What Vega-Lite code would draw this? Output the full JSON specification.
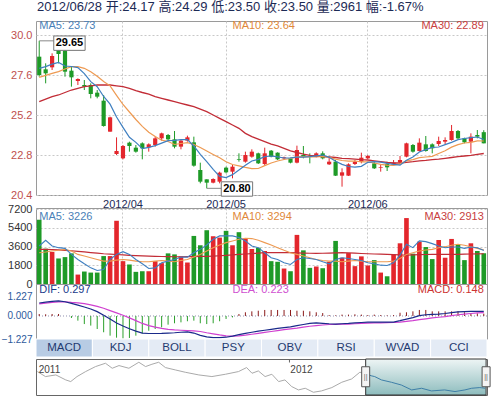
{
"$schema":"https://vega.github.io/schema/vega-lite/v6.json",
"padding":{"left":0,"top":0,"right":0,"bottom":0},
"background":"#ffffff",
"bounds":"flush",
"spacing":0,
"config":{"font":"Liberation Sans","view":{"stroke":"#9a9a9a"},"axis":{"labelFont":"Liberation Sans"}},
"datasets":{
"k":[
{"d":"2012-03-15","o":28.70,"h":29.65,"l":27.50,"c":27.60,"m5":28.00,"m10":27.46,"m30":26.00,"v":6190,"v5":3661,"v10":3013,"v30":3337,"dif":0.84,"dea":0.78,"macd":0.13},
{"d":"2012-03-16","o":27.94,"h":28.30,"l":27.10,"c":27.70,"m5":28.10,"m10":27.58,"m30":26.15,"v":3400,"v5":4212,"v10":3078,"v30":3330,"dif":0.90,"dea":0.83,"macd":0.11},
{"d":"2012-03-19","o":28.06,"h":28.90,"l":27.90,"c":28.74,"m5":28.25,"m10":27.70,"m30":26.30,"v":3080,"v5":3661,"v10":3175,"v30":3310,"dif":0.95,"dea":0.88,"macd":0.13},
{"d":"2012-03-20","o":29.14,"h":29.20,"l":28.30,"c":28.86,"m5":28.35,"m10":27.80,"m30":26.40,"v":2460,"v5":3499,"v10":3250,"v30":3280,"dif":0.97,"dea":0.91,"macd":0.13},
{"d":"2012-03-21","o":29.06,"h":29.10,"l":27.50,"c":27.80,"m5":28.14,"m10":27.96,"m30":26.55,"v":2590,"v5":3434,"v10":3337,"v30":3240,"dif":0.92,"dea":0.92,"macd":0.00},
{"d":"2012-03-22","o":27.86,"h":28.10,"l":26.90,"c":27.46,"m5":28.11,"m10":28.10,"m30":26.70,"v":2950,"v5":2851,"v10":3175,"v30":3200,"dif":0.82,"dea":0.88,"macd":-0.13},
{"d":"2012-03-23","o":27.24,"h":27.40,"l":27.00,"c":27.36,"m5":28.04,"m10":28.10,"m30":26.80,"v":907,"v5":2365,"v10":2851,"v30":3150,"dif":0.70,"dea":0.85,"macd":-0.30},
{"d":"2012-03-26","o":27.00,"h":27.30,"l":26.70,"c":26.90,"m5":27.68,"m10":28.00,"m30":26.90,"v":1200,"v5":1944,"v10":2689,"v30":3090,"dif":0.58,"dea":0.80,"macd":-0.52},
{"d":"2012-03-27","o":27.00,"h":27.10,"l":26.20,"c":26.46,"m5":27.20,"m10":27.80,"m30":26.95,"v":1100,"v5":1555,"v10":2527,"v30":3030,"dif":0.45,"dea":0.72,"macd":-0.62},
{"d":"2012-03-28","o":26.54,"h":26.70,"l":26.20,"c":26.30,"m5":26.90,"m10":27.52,"m30":27.00,"v":1100,"v5":1296,"v10":2365,"v30":2970,"dif":0.28,"dea":0.62,"macd":-0.84},
{"d":"2012-03-29","o":26.06,"h":26.40,"l":24.50,"c":24.54,"m5":26.31,"m10":27.21,"m30":27.00,"v":2690,"v5":1393,"v10":2203,"v30":2916,"dif":0.05,"dea":0.50,"macd":-1.05},
{"d":"2012-03-30","o":24.20,"h":25.10,"l":24.20,"c":25.06,"m5":25.85,"m10":26.95,"m30":27.00,"v":2690,"v5":2365,"v10":2203,"v30":2880,"dif":-0.20,"dea":0.35,"macd":-1.27},
{"d":"2012-04-05","o":22.86,"h":23.86,"l":22.80,"c":23.04,"m5":25.08,"m10":26.38,"m30":26.95,"v":6090,"v5":2851,"v10":2300,"v30":2840,"dif":-0.45,"dea":0.20,"macd":-1.40},
{"d":"2012-04-06","o":22.60,"h":23.40,"l":22.54,"c":23.34,"m5":24.46,"m10":25.83,"m30":26.90,"v":2200,"v5":3110,"v10":2365,"v30":2800,"dif":-0.65,"dea":0.05,"macd":-1.45},
{"d":"2012-04-09","o":23.54,"h":23.60,"l":23.00,"c":23.34,"m5":23.86,"m10":25.38,"m30":26.80,"v":1880,"v5":2851,"v10":2300,"v30":2760,"dif":-0.82,"dea":-0.12,"macd":-1.42},
{"d":"2012-04-10","o":23.24,"h":23.40,"l":22.94,"c":23.00,"m5":23.56,"m10":24.93,"m30":26.66,"v":1170,"v5":2365,"v10":2203,"v30":2730,"dif":-0.98,"dea":-0.30,"macd":-1.27},
{"d":"2012-04-11","o":23.50,"h":23.56,"l":22.54,"c":23.20,"m5":23.18,"m10":24.52,"m30":26.55,"v":1230,"v5":1944,"v10":2138,"v30":2705,"dif":-1.10,"dea":-0.48,"macd":-1.12},
{"d":"2012-04-12","o":23.26,"h":23.50,"l":23.00,"c":23.44,"m5":23.26,"m10":24.17,"m30":26.45,"v":1230,"v5":1490,"v10":2138,"v30":2689,"dif":-1.13,"dea":-0.62,"macd":-0.95},
{"d":"2012-04-13","o":23.40,"h":23.90,"l":23.30,"c":23.80,"m5":23.36,"m10":23.91,"m30":26.30,"v":2200,"v5":1555,"v10":2203,"v30":2670,"dif":-1.13,"dea":-0.72,"macd":-0.84},
{"d":"2012-04-16","o":23.80,"h":24.14,"l":23.66,"c":24.10,"m5":23.51,"m10":23.69,"m30":26.20,"v":2010,"v5":2041,"v10":2268,"v30":2650,"dif":-1.12,"dea":-0.80,"macd":-0.73},
{"d":"2012-04-17","o":24.00,"h":24.06,"l":23.66,"c":23.74,"m5":23.66,"m10":23.61,"m30":26.10,"v":2950,"v5":2203,"v10":2203,"v30":2635,"dif":-1.10,"dea":-0.86,"macd":-0.56},
{"d":"2012-04-18","o":23.74,"h":24.24,"l":23.20,"c":23.30,"m5":23.68,"m10":23.43,"m30":26.00,"v":2850,"v5":2365,"v10":2138,"v30":2624,"dif":-1.08,"dea":-0.90,"macd":-0.47},
{"d":"2012-04-19","o":23.30,"h":23.70,"l":23.14,"c":23.66,"m5":23.72,"m10":23.49,"m30":25.90,"v":2660,"v5":2592,"v10":2268,"v30":2624,"dif":-1.05,"dea":-0.92,"macd":-0.41},
{"d":"2012-04-20","o":23.66,"h":23.96,"l":23.60,"c":23.86,"m5":23.73,"m10":23.54,"m30":25.80,"v":2070,"v5":2592,"v10":2365,"v30":2630,"dif":-1.02,"dea":-0.94,"macd":-0.34},
{"d":"2012-04-23","o":23.56,"h":23.90,"l":22.10,"c":22.16,"m5":23.34,"m10":23.43,"m30":25.70,"v":4630,"v5":3013,"v10":2592,"v30":2640,"dif":-1.10,"dea":-0.96,"macd":-0.30},
{"d":"2012-04-24","o":21.90,"h":22.34,"l":21.10,"c":21.20,"m5":22.84,"m10":23.25,"m30":25.55,"v":3730,"v5":3337,"v10":2851,"v30":2655,"dif":-1.25,"dea":-1.00,"macd":-0.47},
{"d":"2012-04-25","o":21.34,"h":21.34,"l":20.80,"c":21.14,"m5":22.40,"m10":23.04,"m30":25.40,"v":5180,"v5":3758,"v10":3175,"v30":2670,"dif":-1.35,"dea":-1.08,"macd":-0.52},
{"d":"2012-04-26","o":21.14,"h":21.40,"l":21.10,"c":21.36,"m5":21.94,"m10":22.83,"m30":25.20,"v":4600,"v5":4309,"v10":3499,"v30":2689,"dif":-1.40,"dea":-1.15,"macd":-0.47},
{"d":"2012-04-27","o":21.20,"h":21.80,"l":21.10,"c":21.74,"m5":21.52,"m10":22.63,"m30":25.00,"v":4470,"v5":4633,"v10":3758,"v30":2720,"dif":-1.40,"dea":-1.22,"macd":-0.34},
{"d":"2012-05-02","o":22.04,"h":22.10,"l":21.70,"c":21.76,"m5":21.44,"m10":22.39,"m30":24.80,"v":5120,"v5":4633,"v10":3985,"v30":2760,"dif":-1.37,"dea":-1.28,"macd":-0.19},
{"d":"2012-05-03","o":21.80,"h":22.20,"l":21.40,"c":22.10,"m5":21.62,"m10":22.23,"m30":24.60,"v":3730,"v5":4633,"v10":4147,"v30":2810,"dif":-1.30,"dea":-1.30,"macd":-0.09},
{"d":"2012-05-04","o":22.56,"h":22.90,"l":22.40,"c":22.52,"m5":21.90,"m10":22.15,"m30":24.40,"v":4990,"v5":4471,"v10":4309,"v30":2851,"dif":-1.20,"dea":-1.28,"macd":0.13},
{"d":"2012-05-07","o":22.40,"h":23.00,"l":22.34,"c":22.80,"m5":22.18,"m10":22.06,"m30":24.10,"v":4340,"v5":4147,"v10":4406,"v30":2890,"dif":-1.12,"dea":-1.24,"macd":0.24},
{"d":"2012-05-08","o":22.70,"h":23.14,"l":22.64,"c":23.00,"m5":22.44,"m10":21.98,"m30":23.90,"v":3370,"v5":3661,"v10":4374,"v30":2930,"dif":-1.05,"dea":-1.18,"macd":0.30},
{"d":"2012-05-09","o":22.90,"h":22.94,"l":22.26,"c":22.30,"m5":22.54,"m10":21.99,"m30":23.75,"v":3500,"v5":3499,"v10":4212,"v30":2970,"dif":-0.98,"dea":-1.12,"macd":0.34},
{"d":"2012-05-10","o":22.26,"h":23.24,"l":22.20,"c":22.90,"m5":22.70,"m10":22.16,"m30":23.60,"v":3180,"v5":3013,"v10":3985,"v30":3013,"dif":-0.92,"dea":-1.06,"macd":0.39},
{"d":"2012-05-11","o":23.06,"h":23.10,"l":22.66,"c":22.70,"m5":22.74,"m10":22.32,"m30":23.45,"v":2200,"v5":2527,"v10":3758,"v30":3013,"dif":-0.86,"dea":-1.00,"macd":0.39},
{"d":"2012-05-14","o":22.94,"h":22.96,"l":22.50,"c":22.54,"m5":22.69,"m10":22.44,"m30":23.35,"v":2140,"v5":2365,"v10":3499,"v30":3013,"dif":-0.80,"dea":-0.94,"macd":0.39},
{"d":"2012-05-15","o":22.60,"h":22.70,"l":22.50,"c":22.66,"m5":22.62,"m10":22.53,"m30":23.20,"v":1490,"v5":2041,"v10":3240,"v30":3013,"dif":-0.75,"dea":-0.88,"macd":0.39},
{"d":"2012-05-16","o":22.60,"h":22.64,"l":22.30,"c":22.34,"m5":22.63,"m10":22.59,"m30":23.05,"v":1230,"v5":1879,"v10":3013,"v30":3013,"dif":-0.70,"dea":-0.83,"macd":0.39},
{"d":"2012-05-17","o":22.34,"h":23.36,"l":22.30,"c":23.10,"m5":22.67,"m10":22.69,"m30":22.95,"v":4730,"v5":2365,"v10":2851,"v30":3000,"dif":-0.62,"dea":-0.78,"macd":0.34},
{"d":"2012-05-18","o":22.80,"h":23.34,"l":22.60,"c":22.70,"m5":22.67,"m10":22.70,"m30":22.85,"v":3240,"v5":2527,"v10":2689,"v30":2980,"dif":-0.55,"dea":-0.72,"macd":0.34},
{"d":"2012-05-21","o":22.74,"h":22.90,"l":22.30,"c":22.70,"m5":22.70,"m10":22.69,"m30":22.78,"v":1555,"v5":2462,"v10":2527,"v30":2960,"dif":-0.48,"dea":-0.66,"macd":0.30},
{"d":"2012-05-22","o":22.70,"h":22.96,"l":22.66,"c":22.90,"m5":22.75,"m10":22.68,"m30":22.74,"v":1685,"v5":2365,"v10":2365,"v30":2950,"dif":-0.45,"dea":-0.62,"macd":0.24},
{"d":"2012-05-23","o":22.90,"h":23.02,"l":22.54,"c":22.60,"m5":22.80,"m10":22.71,"m30":22.70,"v":1520,"v5":2138,"v10":2268,"v30":2960,"dif":-0.47,"dea":-0.58,"macd":0.19},
{"d":"2012-05-24","o":22.24,"h":22.70,"l":22.20,"c":22.40,"m5":22.66,"m10":22.66,"m30":22.68,"v":2140,"v5":1944,"v10":2203,"v30":2980,"dif":-0.50,"dea":-0.55,"macd":0.06},
{"d":"2012-05-25","o":22.40,"h":22.50,"l":21.54,"c":21.56,"m5":22.43,"m10":22.55,"m30":22.65,"v":4150,"v5":2365,"v10":2203,"v30":3000,"dif":-0.52,"dea":-0.54,"macd":0.04},
{"d":"2012-05-28","o":21.56,"h":22.00,"l":20.90,"c":21.76,"m5":22.24,"m10":22.47,"m30":22.60,"v":2530,"v5":2527,"v10":2138,"v30":3013,"dif":-0.50,"dea":-0.53,"macd":0.09},
{"d":"2012-05-29","o":21.56,"h":22.30,"l":21.54,"c":22.24,"m5":22.11,"m10":22.43,"m30":22.58,"v":2980,"v5":2462,"v10":2203,"v30":3000,"dif":-0.48,"dea":-0.52,"macd":0.09},
{"d":"2012-05-30","o":22.26,"h":22.50,"l":22.20,"c":22.40,"m5":22.07,"m10":22.44,"m30":22.55,"v":1720,"v5":2365,"v10":2268,"v30":2970,"dif":-0.45,"dea":-0.50,"macd":0.11},
{"d":"2012-05-31","o":22.40,"h":22.94,"l":22.30,"c":22.64,"m5":22.12,"m10":22.39,"m30":22.52,"v":2660,"v5":2268,"v10":2203,"v30":2940,"dif":-0.42,"dea":-0.48,"macd":0.09},
{"d":"2012-06-01","o":22.60,"h":22.80,"l":22.56,"c":22.74,"m5":22.36,"m10":22.39,"m30":22.50,"v":1780,"v5":2041,"v10":2138,"v30":2916,"dif":-0.40,"dea":-0.46,"macd":0.06},
{"d":"2012-06-04","o":22.30,"h":22.40,"l":21.96,"c":22.00,"m5":22.40,"m10":22.32,"m30":22.45,"v":2300,"v5":1944,"v10":2138,"v30":2890,"dif":-0.40,"dea":-0.45,"macd":0.09},
{"d":"2012-06-05","o":22.02,"h":22.24,"l":21.80,"c":22.06,"m5":22.37,"m10":22.24,"m30":22.40,"v":1100,"v5":1814,"v10":2138,"v30":2870,"dif":-0.40,"dea":-0.44,"macd":0.06},
{"d":"2012-06-06","o":22.26,"h":22.40,"l":21.84,"c":22.06,"m5":22.30,"m10":22.19,"m30":22.35,"v":745,"v5":1782,"v10":2138,"v30":2851,"dif":-0.40,"dea":-0.43,"macd":0.04},
{"d":"2012-06-07","o":22.24,"h":22.50,"l":22.16,"c":22.34,"m5":22.24,"m10":22.18,"m30":22.32,"v":2850,"v5":2041,"v10":2203,"v30":2830,"dif":-0.39,"dea":-0.42,"macd":0.06},
{"d":"2012-06-08","o":22.36,"h":22.74,"l":22.20,"c":22.50,"m5":22.19,"m10":22.27,"m30":22.32,"v":3920,"v5":2786,"v10":2462,"v30":2800,"dif":-0.30,"dea":-0.40,"macd":0.21},
{"d":"2012-06-11","o":22.70,"h":23.54,"l":22.66,"c":23.50,"m5":22.49,"m10":22.45,"m30":22.36,"v":6350,"v5":3823,"v10":2851,"v30":2786,"dif":-0.20,"dea":-0.35,"macd":0.24},
{"d":"2012-06-12","o":23.40,"h":23.46,"l":22.94,"c":23.00,"m5":22.68,"m10":22.52,"m30":22.40,"v":2920,"v5":3499,"v10":3013,"v30":2800,"dif":-0.10,"dea":-0.30,"macd":0.30},
{"d":"2012-06-13","o":23.04,"h":23.80,"l":23.00,"c":23.54,"m5":22.98,"m10":22.64,"m30":22.45,"v":4080,"v5":4147,"v10":3175,"v30":2820,"dif":0.02,"dea":-0.24,"macd":0.39},
{"d":"2012-06-14","o":23.44,"h":23.94,"l":23.00,"c":23.04,"m5":23.12,"m10":22.68,"m30":22.48,"v":3560,"v5":4082,"v10":3272,"v30":2840,"dif":0.08,"dea":-0.18,"macd":0.39},
{"d":"2012-06-15","o":23.44,"h":23.50,"l":22.90,"c":23.20,"m5":23.26,"m10":22.72,"m30":22.52,"v":2400,"v5":3888,"v10":3337,"v30":2851,"dif":0.10,"dea":-0.12,"macd":0.30},
{"d":"2012-06-18","o":23.46,"h":23.90,"l":23.34,"c":23.64,"m5":23.28,"m10":22.89,"m30":22.55,"v":4240,"v5":3661,"v10":3499,"v30":2851,"dif":0.12,"dea":-0.08,"macd":0.30},
{"d":"2012-06-19","o":23.60,"h":23.86,"l":23.46,"c":23.70,"m5":23.42,"m10":23.05,"m30":22.60,"v":2530,"v5":3499,"v10":3596,"v30":2851,"dif":0.16,"dea":-0.04,"macd":0.30},
{"d":"2012-06-20","o":23.70,"h":24.60,"l":23.66,"c":24.24,"m5":23.56,"m10":23.27,"m30":22.65,"v":4340,"v5":3564,"v10":3726,"v30":2851,"dif":0.22,"dea":0.02,"macd":0.30},
{"d":"2012-06-21","o":24.24,"h":24.30,"l":23.74,"c":23.80,"m5":23.72,"m10":23.42,"m30":22.70,"v":3760,"v5":3564,"v10":3823,"v30":2851,"dif":0.26,"dea":0.08,"macd":0.30},
{"d":"2012-06-25","o":23.80,"h":23.84,"l":23.50,"c":23.56,"m5":23.79,"m10":23.52,"m30":22.74,"v":2300,"v5":3434,"v10":3726,"v30":2870,"dif":0.28,"dea":0.12,"macd":0.24},
{"d":"2012-06-26","o":23.60,"h":24.10,"l":22.90,"c":23.90,"m5":23.84,"m10":23.56,"m30":22.78,"v":3920,"v5":3564,"v10":3596,"v30":2890,"dif":0.30,"dea":0.16,"macd":0.19},
{"d":"2012-06-27","o":24.00,"h":24.30,"l":23.80,"c":23.90,"m5":23.88,"m10":23.65,"m30":22.84,"v":3180,"v5":3499,"v10":3434,"v30":2905,"dif":0.30,"dea":0.20,"macd":0.17},
{"d":"2012-06-28","o":24.17,"h":24.29,"l":23.50,"c":23.50,"m5":23.73,"m10":23.64,"m30":22.89,"v":2961,"v5":3226,"v10":3294,"v30":2913,"dif":0.297,"dea":0.223,"macd":0.148}
],
"navA":[
{"t":0.3,"v":28.67},{"t":2.1,"v":26.67},{"t":4.4,"v":27.33},{"t":6.6,"v":25.33},{"t":7.7,"v":24.67},{"t":9.1,"v":26.67},{"t":11,"v":28.67},{"t":13.2,"v":30.67},{"t":15.4,"v":32.0},{"t":16.9,"v":30.0},{"t":18.4,"v":31.07},{"t":20.6,"v":30.0},{"t":22.8,"v":32.4},{"t":24.3,"v":30.67},{"t":25.7,"v":31.6},{"t":27.2,"v":32.4},{"t":28.7,"v":30.27},{"t":30.9,"v":29.33},{"t":33.1,"v":28.4},{"t":36.1,"v":27.33},{"t":39,"v":26.67},{"t":42,"v":27.6},{"t":44.9,"v":28.67},{"t":46.7,"v":30.27},{"t":47.9,"v":28.0},{"t":49.3,"v":28.93},{"t":50.8,"v":26.67},{"t":52.3,"v":27.6},{"t":53.8,"v":24.67},{"t":55.2,"v":25.33},{"t":56.7,"v":22.67},{"t":58.2,"v":21.33},{"t":59.7,"v":22.0},{"t":61.5,"v":20.4},{"t":63.3,"v":20.93},{"t":65.6,"v":22.27},{"t":67.8,"v":24.4},{"t":70,"v":25.73},{"t":71.8,"v":28.4},{"t":73.1,"v":28.0}
],
"navB":[
{"t":73.1,"v":28.0},{"t":74.3,"v":27.0},{"t":75.1,"v":26.67},{"t":76.6,"v":25.33},{"t":78.8,"v":24.4},{"t":81,"v":23.3},{"t":83.3,"v":21.33},{"t":85.5,"v":22.0},{"t":87.7,"v":20.93},{"t":90.6,"v":21.33},{"t":92.9,"v":20.67},{"t":95.1,"v":21.33},{"t":96.6,"v":22.0},{"t":98.4,"v":22.27},{"t":99.6,"v":22.0}
],
"tabs":[
{"tab":"MACD","on":1},{"tab":"KDJ","on":0},{"tab":"BOLL","on":0},{"tab":"PSY","on":0},{"tab":"OBV","on":0},{"tab":"RSI","on":0},{"tab":"WVAD","on":0},{"tab":"CCI","on":0}
]
},
"vconcat":[
{
"width":451,"height":174,
"title":{"text":"2012/06/28 开:24.17 高:24.29 低:23.50 收:23.50 量:2961 幅:-1.67%","anchor":"start","frame":"group","offset":6,"dx":1,"fontSize":13,"fontWeight":"normal","color":"#1c2a55","font":"Liberation Sans, Noto Sans CJK SC"},
"data":{"name":"k"},
"layer":[
{"mark":{"type":"rule","strokeWidth":1},
 "encoding":{
  "x":{"field":"d","type":"ordinal","scale":{"paddingInner":0,"paddingOuter":0},
   "axis":{"values":["2012-04-06","2012-05-02","2012-06-01"],"labelExpr":"replace(slice(datum.value,0,7),'-','/')","bandPosition":0.5,"grid":true,"gridDash":[2,2],"gridColor":"#c8c8c8","ticks":false,"tickSize":0,"domain":false,"labelPadding":3,"labelFontSize":11,"labelColor":"#1c2a55","labelAngle":0,"labelOverlap":false,"title":null}},
  "y":{"field":"l","type":"quantitative","scale":{"domain":[20.4,30.84],"nice":false,"zero":false},
   "axis":{"values":[20.4,22.8,25.2,27.6,30.0],"tickCount":20,"format":".1f","grid":true,"gridDash":[2,2],"gridColor":"#c8c8c8","ticks":false,"tickSize":0,"domain":false,"labelPadding":4,"labelFontSize":11,"labelColor":"#c0504d","labelOverlap":false,"title":null}},
  "y2":{"field":"h"},
  "color":{"condition":{"test":"datum.c >= datum.o","value":"#e3262c"},"value":"#1e9a27"}}},
{"mark":{"type":"bar","width":{"band":0.65}},
 "encoding":{
  "x":{"field":"d","type":"ordinal"},
  "y":{"field":"o","type":"quantitative"},
  "y2":{"field":"c"},
  "color":{"condition":{"test":"datum.c >= datum.o","value":"#e3262c"},"value":"#1e9a27"}}},
{"mark":{"type":"line","color":"#c22c36","strokeWidth":1.3},
 "encoding":{"x":{"field":"d","type":"ordinal"},"y":{"field":"m30","type":"quantitative"}}},
{"mark":{"type":"line","color":"#ee9a52","strokeWidth":1.2},
 "encoding":{"x":{"field":"d","type":"ordinal"},"y":{"field":"m10","type":"quantitative"}}},
{"mark":{"type":"line","color":"#3f7fc0","strokeWidth":1.2},
 "encoding":{"x":{"field":"d","type":"ordinal"},"y":{"field":"m5","type":"quantitative"}}},
{"data":{"values":[{"a":"2012-03-15","b":"2012-03-20","p":29.65},{"a":"2012-04-25","b":"2012-05-02","p":20.80}]},
 "mark":{"type":"rule","color":"#888888","strokeWidth":1},
 "encoding":{"x":{"field":"a","type":"ordinal"},"x2":{"field":"b"},"y":{"field":"p","type":"quantitative"}}},
{"data":{"values":[{"d":"2012-03-22","p":29.51,"t":"29.65"},{"d":"2012-05-04","p":20.76,"t":"20.80"}]},
 "mark":{"type":"point","shape":"M-0.98,-0.45H0.98V0.45H-0.98Z","size":1024,"filled":true,"fill":"#ffffff","stroke":"#777777","strokeWidth":1,"opacity":1,"fillOpacity":1,"strokeOpacity":1,"xOffset":-2},
 "encoding":{"x":{"field":"d","type":"ordinal"},"y":{"field":"p","type":"quantitative"}}},
{"data":{"values":[{"d":"2012-03-22","p":29.51,"t":"29.65"},{"d":"2012-05-04","p":20.76,"t":"20.80"}]},
 "mark":{"type":"text","fontSize":11,"fontWeight":"bold","color":"#000000","dx":-2,"baseline":"middle"},
 "encoding":{"x":{"field":"d","type":"ordinal"},"y":{"field":"p","type":"quantitative"},"text":{"field":"t"}}},
{"data":{"values":[{"t":"MA5: 23.73"}]},"mark":{"type":"text","align":"left","baseline":"middle","fontSize":11,"color":"#4a7fb8"},
 "encoding":{"x":{"datum":"2012-03-15","type":"ordinal"},"y":{"datum":30.54,"type":"quantitative"},"text":{"field":"t"}}},
{"data":{"values":[{"t":"MA10: 23.64"}]},"mark":{"type":"text","align":"left","baseline":"middle","fontSize":11,"color":"#e0883a"},
 "encoding":{"x":{"datum":"2012-05-03","type":"ordinal"},"y":{"datum":30.54,"type":"quantitative"},"text":{"field":"t"}}},
{"data":{"values":[{"t":"MA30: 22.89"}]},"mark":{"type":"text","align":"right","baseline":"middle","fontSize":11,"color":"#c84040"},
 "encoding":{"x":{"datum":"2012-06-28","type":"ordinal"},"y":{"datum":30.54,"type":"quantitative"},"text":{"field":"t"}}}
]
},
{"width":451,"height":13,"view":{"stroke":null},"data":{"values":[{}]},"mark":{"type":"text"},"encoding":{"text":{"value":""}}},
{
"width":451,"height":76,
"data":{"name":"k"},
"layer":[
{"mark":{"type":"bar","width":{"band":0.72}},
 "encoding":{
  "x":{"field":"d","type":"ordinal","scale":{"paddingInner":0,"paddingOuter":0},
   "axis":{"values":["2012-04-06","2012-05-02","2012-06-01"],"bandPosition":0.5,"grid":true,"gridDash":[2,2],"gridColor":"#c8c8c8","labels":false,"ticks":false,"domain":false,"title":null}},
  "y":{"field":"v","type":"quantitative","scale":{"domain":[0,7320],"nice":false},
   "axis":{"values":[0,1800,3600,5400,7200],"tickCount":20,"format":"d","grid":true,"gridDash":[2,2],"gridColor":"#c8c8c8","ticks":false,"domain":false,"labelPadding":4,"labelFontSize":11,"labelColor":"#333333","labelOverlap":false,"title":null}},
  "color":{"condition":{"test":"datum.c >= datum.o","value":"#e3262c"},"value":"#1e9a27"}}},
{"mark":{"type":"line","color":"#c22c36","strokeWidth":1.2},
 "encoding":{"x":{"field":"d","type":"ordinal"},"y":{"field":"v30","type":"quantitative"}}},
{"mark":{"type":"line","color":"#ee9a52","strokeWidth":1.1},
 "encoding":{"x":{"field":"d","type":"ordinal"},"y":{"field":"v10","type":"quantitative"}}},
{"mark":{"type":"line","color":"#3f7fc0","strokeWidth":1.1},
 "encoding":{"x":{"field":"d","type":"ordinal"},"y":{"field":"v5","type":"quantitative"}}},
{"data":{"values":[{"t":"MA5: 3226"}]},"mark":{"type":"text","align":"left","baseline":"middle","fontSize":11,"color":"#4a7fb8"},
 "encoding":{"x":{"datum":"2012-03-15","type":"ordinal"},"y":{"datum":6480,"type":"quantitative"},"text":{"field":"t"}}},
{"data":{"values":[{"t":"MA10: 3294"}]},"mark":{"type":"text","align":"left","baseline":"middle","fontSize":11,"color":"#e0883a"},
 "encoding":{"x":{"datum":"2012-05-03","type":"ordinal"},"y":{"datum":6480,"type":"quantitative"},"text":{"field":"t"}}},
{"data":{"values":[{"t":"MA30: 2913"}]},"mark":{"type":"text","align":"right","baseline":"middle","fontSize":11,"color":"#c84040"},
 "encoding":{"x":{"datum":"2012-06-28","type":"ordinal"},"y":{"datum":6480,"type":"quantitative"},"text":{"field":"t"}}}
]
},
{
"width":451,"height":55,
"data":{"name":"k"},
"layer":[
{"data":{"values":[{}]},"mark":{"type":"rule","strokeDash":[1,2],"color":"#9090b0"},
 "encoding":{"y":{"datum":0,"type":"quantitative","scale":{"domain":[-1.485,2.066],"nice":false,"zero":false},
  "axis":{"values":[-1.227,0,1.227],"tickCount":20,"format":".3f","grid":false,"ticks":false,"domain":false,"labelPadding":4,"labelFontSize":10,"labelColor":"#2e5a9c","labelOverlap":false,"labelOffset":{"condition":{"test":"datum.value < 0","value":4},"value":0},"title":null}}}},
{"mark":{"type":"rule","strokeWidth":1},
 "encoding":{
  "x":{"field":"d","type":"ordinal","scale":{"paddingInner":0,"paddingOuter":0},"axis":null},
  "y":{"field":"macd","type":"quantitative"},
  "y2":{"datum":0},
  "color":{"condition":{"test":"datum.macd >= 0","value":"#8b1a1a"},"value":"#2ca02c"}}},
{"mark":{"type":"line","color":"#d040d0","strokeWidth":1.2},
 "encoding":{"x":{"field":"d","type":"ordinal","axis":null},"y":{"field":"dea","type":"quantitative"}}},
{"mark":{"type":"line","color":"#1a2a8a","strokeWidth":1.2},
 "encoding":{"x":{"field":"d","type":"ordinal","axis":null},"y":{"field":"dif","type":"quantitative"}}},
{"data":{"values":[{"t":"DIF: 0.297"}]},"mark":{"type":"text","align":"left","baseline":"middle","fontSize":11,"color":"#1a3a8a"},
 "encoding":{"x":{"datum":"2012-03-15","type":"ordinal","axis":null},"y":{"datum":1.68,"type":"quantitative"},"text":{"field":"t"}}},
{"data":{"values":[{"t":"DEA: 0.223"}]},"mark":{"type":"text","align":"left","baseline":"middle","fontSize":11,"color":"#d050d0"},
 "encoding":{"x":{"datum":"2012-05-03","type":"ordinal","axis":null},"y":{"datum":1.68,"type":"quantitative"},"text":{"field":"t"}}},
{"data":{"values":[{"t":"MACD: 0.148"}]},"mark":{"type":"text","align":"right","baseline":"middle","fontSize":11,"color":"#cc3333"},
 "encoding":{"x":{"datum":"2012-06-28","type":"ordinal","axis":null},"y":{"datum":1.68,"type":"quantitative"},"text":{"field":"t"}}}
]
},
{
"width":451,"height":18,
"view":{"stroke":null},
"data":{"name":"tabs"},
"layer":[
{"mark":{"type":"bar","width":{"band":1},"stroke":"#ffffff","strokeWidth":1},
 "encoding":{
  "x":{"field":"tab","type":"nominal","sort":null,"scale":{"paddingInner":0,"paddingOuter":0},"axis":null},
  "color":{"condition":{"test":"datum.on == 1","value":"#b8cce4"},"value":"#e4ebf5"}}},
{"mark":{"type":"text","fontSize":11.5,"color":"#1f3a70","baseline":"middle"},
 "encoding":{"x":{"field":"tab","type":"nominal","sort":null,"axis":null},"text":{"field":"tab"}}}
]
},
{"width":451,"height":2,"view":{"stroke":null},"data":{"values":[{}]},"mark":{"type":"text"},"encoding":{"text":{"value":""}}},
{
"width":451,"height":36,
"view":{"stroke":"#666666"},
"layer":[
{"data":{"values":[{"t1":73.1,"t2":99.8}]},
 "mark":{"type":"rect","fill":{"gradient":"linear","x1":0,"y1":0,"x2":0,"y2":1,"stops":[{"offset":0,"color":"#eef5f5"},{"offset":1,"color":"#8dbcbd"}]},"stroke":"#333333","strokeWidth":1},
 "encoding":{"x":{"field":"t1","type":"quantitative","scale":{"domain":[0,100],"nice":false,"zero":false},"axis":null},"x2":{"field":"t2"}}},
{"data":{"name":"navA"},"mark":{"type":"line","color":"#aaaaaa","strokeWidth":1},
 "encoding":{"x":{"field":"t","type":"quantitative","axis":null},"y":{"field":"v","type":"quantitative","scale":{"domain":[19.3,33.7],"nice":false,"zero":false},"axis":null}}},
{"data":{"name":"navB"},"mark":{"type":"line","color":"#3f7fa8","strokeWidth":1},
 "encoding":{"x":{"field":"t","type":"quantitative","axis":null},"y":{"field":"v","type":"quantitative","axis":null}}},
{"data":{"values":[{"t":56.2}]},"mark":{"type":"rule","color":"#666666"},
 "encoding":{"x":{"field":"t","type":"quantitative","axis":null},"y":{"datum":33.7,"type":"quantitative","axis":null},"y2":{"datum":32.3}}},
{"data":{"values":[{"t":0.6,"yr":"2011"},{"t":56.4,"yr":"2012"}]},"mark":{"type":"text","align":"left","baseline":"middle","fontSize":10,"color":"#444444"},
 "encoding":{"x":{"field":"t","type":"quantitative","axis":null},"y":{"datum":29.3,"type":"quantitative","axis":null},"text":{"field":"yr"}}},
{"data":{"values":[{"t":73.1},{"t":99.8}]},
 "mark":{"type":"point","shape":"M-0.4,-1H0.4V1H-0.4Z","size":400,"filled":true,"fill":"#f4f4f4","stroke":"#555555","strokeWidth":1,"opacity":1,"fillOpacity":1},
 "encoding":{"x":{"field":"t","type":"quantitative","axis":null},"y":{"datum":26.6,"type":"quantitative","axis":null}}},
{"data":{"values":[{"t":73.1},{"t":99.8}]},
 "mark":{"type":"text","text":"||","fontSize":7,"color":"#555555","baseline":"middle"},
 "encoding":{"x":{"field":"t","type":"quantitative","axis":null},"y":{"datum":26.6,"type":"quantitative","axis":null}}}
]
}
]
}
